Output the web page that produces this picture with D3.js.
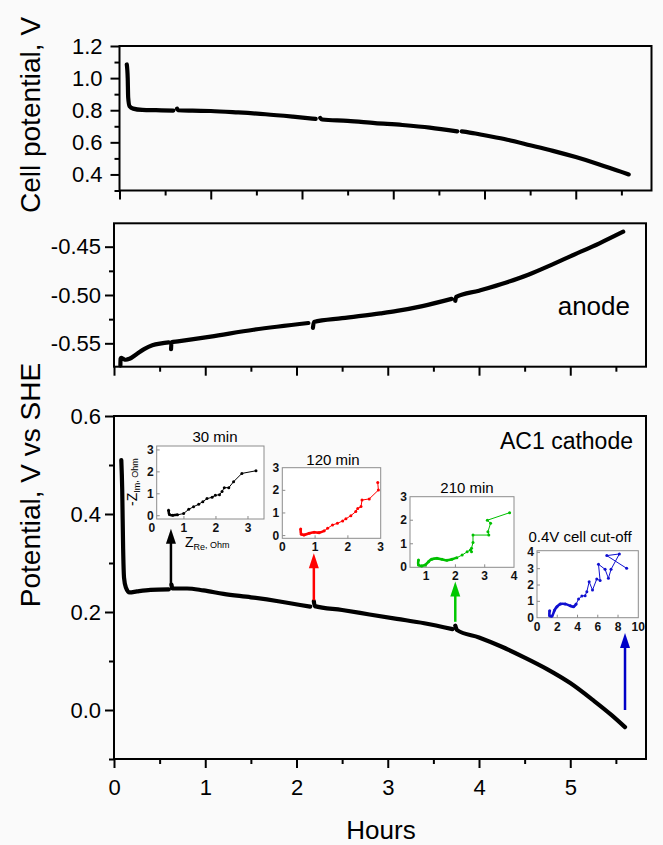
<!DOCTYPE html>
<html><head><meta charset="utf-8">
<script src="https://cdn.jsdelivr.net/npm/d3@7"></script>
<style>body{margin:0;background:#fafafa}</style>
</head><body>
<svg id="chart" width="663" height="845"></svg>
<script>
// ---------------- DATA ----------------
const hourTicks = [0, 1, 2, 3, 4, 5];
const hourMinorTicks = [0.5, 1.5, 2.5, 3.5, 4.5, 5.5];

const cellTicks = [0.4, 0.6, 0.8, 1.0, 1.2];
const cellMinorTicks = [0.3, 0.5, 0.7, 0.9, 1.1];
const anodeTicks = [-0.55, -0.50, -0.45];
const anodeMinorTicks = [-0.525, -0.475];
const cathodeTicks = [0.0, 0.2, 0.4, 0.6];
const cathodeMinorTicks = [-0.1, 0.1, 0.3, 0.5];

// cell potential (null = gap during impedance measurement)
const cellTime = [0.08,0.09,0.095,0.11,0.15,0.25,0.4,0.59,0.61,0.63,0.64,0.8,1.0,1.3,1.6,1.9,2.15,2.17,2.2,2.22,2.5,2.8,3.1,3.4,3.7,3.72,3.75,3.9,4.0,4.25,4.5,4.75,5.0,5.25,5.5,5.58];
const cellVolt = [1.085,1.0,0.88,0.825,0.81,0.802,0.80,0.798,null,0.81,0.80,0.797,0.795,0.786,0.775,0.76,0.746,null,0.752,0.742,0.734,0.72,0.708,0.692,0.668,null,0.668,0.655,0.644,0.616,0.582,0.547,0.508,0.464,0.416,0.40];

const anodeTime = [0.07,0.072,0.08,0.1,0.13,0.17,0.25,0.33,0.42,0.52,0.6,0.61,0.625,0.63,0.7,1.06,1.53,2.13,2.16,2.18,2.19,2.5,2.92,3.1,3.38,3.7,3.72,3.74,3.75,4.0,4.3,4.54,4.8,5.0,5.32,5.58];
const anodeVolt = [-0.573,-0.566,-0.565,-0.566,-0.567,-0.566,-0.561,-0.556,-0.552,-0.550,-0.549,null,-0.556,-0.549,-0.548,-0.543,-0.536,-0.529,null,-0.534,-0.528,-0.524,-0.519,-0.5165,-0.5115,-0.504,null,-0.506,-0.502,-0.4955,-0.487,-0.479,-0.4685,-0.46,-0.4465,-0.4345];

const cathodeTime = [0.08,0.09,0.1,0.11,0.13,0.17,0.25,0.4,0.6,0.61,0.63,0.64,0.8,0.98,1.2,1.5,1.8,2.15,2.17,2.19,2.2,2.5,2.8,3.1,3.4,3.71,3.73,3.74,3.76,4.0,4.25,4.5,4.75,5.0,5.25,5.45,5.6];
const cathodeVolt = [0.51,0.45,0.33,0.27,0.25,0.24,0.242,0.245,0.246,null,0.256,0.248,0.248,0.244,0.237,0.23,0.222,0.211,null,0.222,0.212,0.204,0.195,0.186,0.177,0.165,null,0.172,0.163,0.148,0.129,0.107,0.083,0.055,0.020,-0.010,-0.035];

// arrows marking impedance measurements
const arrowLabels = ["30 min", "120 min", "210 min", "0.4V cell cut-off"];
const arrowTime = [0.624, 2.19, 3.74, 5.6];
const arrowFrom = [0.252, 0.224, 0.18, 0.0];
const arrowTo = [0.37, 0.32, 0.262, 0.157];

// Nyquist insets
const eis30Re = [0.52,0.55,0.65,0.8,0.99,1.15,1.3,1.46,1.59,1.72,1.88,1.98,2.11,2.19,2.26,2.4,2.55,2.81,3.25];
const eis30Im = [0.25,0.05,0.02,0.04,0.1,0.29,0.41,0.52,0.64,0.78,0.84,0.93,0.96,1.1,1.28,1.28,1.55,1.93,2.05];
const eis120Re = [0.56,0.58,0.66,0.82,0.97,1.12,1.28,1.38,1.53,1.68,1.84,1.94,2.09,2.24,2.3,2.4,2.43,2.65,2.93,2.91];
const eis120Im = [0.29,0.06,0.03,0.1,0.15,0.13,0.21,0.32,0.47,0.54,0.65,0.74,0.88,1.06,1.2,1.28,1.57,1.62,2.01,2.35];
const eis210Re = [0.74,0.74,0.85,0.97,1.08,1.19,1.37,1.54,1.71,1.88,2.05,2.23,2.4,2.51,2.55,2.55,2.6,2.6,3.14,3.11,3.2,3.09,3.85];
const eis210Im = [0.31,0.1,0.06,0.1,0.24,0.34,0.38,0.34,0.3,0.34,0.41,0.52,0.66,0.74,0.66,0.81,1.05,1.37,1.37,1.51,1.87,2.0,2.32];
const eisCutRe = [1.25,1.25,1.48,1.74,1.97,2.3,2.79,3.28,3.6,3.87,4.1,4.43,4.75,4.92,5.15,5.48,5.9,6.23,6.07,6.72,7.05,7.31,8.13,6.89,8.85];
const eisCutIm = [0.43,0.12,0.1,0.47,0.67,0.84,0.84,0.73,0.67,0.84,1.14,1.33,1.35,1.59,2.2,1.69,2.37,2.27,3.27,2.96,2.41,2.96,3.9,3.8,3.02];

const inset30XTicks = [0,1,2,3], inset30YTicks = [0,1,2,3];
const inset120XTicks = [0,1,2,3], inset120YTicks = [0,1,2,3];
const inset210XTicks = [1,2,3,4], inset210YTicks = [0,1,2,3];
const insetCutXTicks = [0,2,4,6,8,10], insetCutYTicks = [0,1,2,3,4];

// ---------------- DRAW ----------------
const FONT = "'Liberation Sans', Arial, Helvetica, sans-serif";
const svg = d3.select("#chart");
svg.append("rect").attr("width", 663).attr("height", 845).attr("fill", "#fafafa");

const xDomain = [0, 5.83];
const fmtMinus = f => v => f(v).replace("\u2212", "-");

function drawPanel(cfg) {
  const x = d3.scaleLinear().domain(xDomain).range([cfg.x0, cfg.x1]);
  const y = d3.scaleLinear().domain(cfg.yDomain).range([cfg.y1, cfg.y0]);
  const g = svg.append("g");
  const ax = g.append("g").attr("transform", `translate(0,${cfg.y1})`)
    .call(d3.axisBottom(x).tickValues(hourTicks).tickSize(9).tickPadding(11)
      .tickFormat(cfg.xLabels ? d3.format("d") : ""));
  ax.select(".domain").remove();
  ax.selectAll("line").attr("stroke", "#000").attr("stroke-width", 2);
  ax.selectAll("text").attr("font-family", FONT).attr("font-size", 22).attr("fill", "#000");
  const axm = g.append("g").attr("transform", `translate(0,${cfg.y1})`)
    .call(d3.axisBottom(x).tickValues(hourMinorTicks).tickSize(5).tickFormat(""));
  axm.select(".domain").remove();
  axm.selectAll("line").attr("stroke", "#000").attr("stroke-width", 2);
  const ay = g.append("g").attr("transform", `translate(${cfg.x0},0)`)
    .call(d3.axisLeft(y).tickValues(cfg.yTicks).tickSize(9).tickPadding(cfg.pad).tickFormat(fmtMinus(cfg.fmt)));
  ay.select(".domain").remove();
  ay.selectAll("line").attr("stroke", "#000").attr("stroke-width", 2);
  ay.selectAll("text").attr("font-family", FONT).attr("font-size", 22).attr("fill", "#000");
  const aym = g.append("g").attr("transform", `translate(${cfg.x0},0)`)
    .call(d3.axisLeft(y).tickValues(cfg.yMinor).tickSize(5).tickFormat(""));
  aym.select(".domain").remove();
  aym.selectAll("line").attr("stroke", "#000").attr("stroke-width", 2);
  g.append("rect").attr("x", cfg.x0).attr("y", cfg.y0)
    .attr("width", cfg.x1 - cfg.x0).attr("height", cfg.y1 - cfg.y0)
    .attr("fill", "none").attr("stroke", "#000").attr("stroke-width", 2);
  const idx = d3.range(cfg.t.length);
  const line = d3.line().defined(i => cfg.v[i] !== null)
    .x(i => x(cfg.t[i])).y(i => y(cfg.v[i])).curve(d3.curveMonotoneX);
  g.append("path").datum(idx).attr("d", line).attr("fill", "none")
    .attr("stroke", "#000").attr("stroke-width", 4.2)
    .attr("stroke-linecap", "round").attr("stroke-linejoin", "round");
  return {x, y, g};
}

const panelTop = drawPanel({x0: 119.5, x1: 651.5, y0: 46, y1: 190.5, yDomain: [0.3, 1.2], pad: 8,
  yTicks: cellTicks, yMinor: cellMinorTicks, fmt: d3.format(".1f"), xLabels: false,
  t: cellTime, v: cellVolt});
const panelMid = drawPanel({x0: 114, x1: 646, y0: 223.3, y1: 366.7, yDomain: [-0.5742, -0.4258], pad: 4,
  yTicks: anodeTicks, yMinor: anodeMinorTicks, fmt: d3.format(".2f"), xLabels: false,
  t: anodeTime, v: anodeVolt});
const panelBot = drawPanel({x0: 114, x1: 646, y0: 416, y1: 759, yDomain: [-0.1, 0.6], pad: 4,
  yTicks: cathodeTicks, yMinor: cathodeMinorTicks, fmt: d3.format(".1f"), xLabels: true,
  t: cathodeTime, v: cathodeVolt});

svg.append("text").attr("transform", "translate(40,115) rotate(-90)")
  .attr("text-anchor", "middle").attr("font-family", FONT).attr("font-size", 28)
  .text("Cell potential, V");
svg.append("text").attr("transform", "translate(40,485) rotate(-90)")
  .attr("text-anchor", "middle").attr("font-family", FONT).attr("font-size", 28)
  .text("Potential, V vs SHE");
svg.append("text").attr("x", 381).attr("y", 839)
  .attr("text-anchor", "middle").attr("font-family", FONT).attr("font-size", 26)
  .text("Hours");
svg.append("text").attr("x", 630).attr("y", 315)
  .attr("text-anchor", "end").attr("font-family", FONT).attr("font-size", 26)
  .text("anode");
svg.append("text").attr("x", 633).attr("y", 449)
  .attr("text-anchor", "end").attr("font-family", FONT).attr("font-size", 23)
  .text("AC1 cathode");

const arrowColors = ["#000000", "#ff0000", "#00c800", "#0000c8"];
arrowTime.forEach((t, i) => {
  const ax = panelBot.x(t), yb = panelBot.y(arrowFrom[i]), yt = panelBot.y(arrowTo[i]);
  const headL = 15, headW = 5;
  svg.append("line").attr("x1", ax).attr("x2", ax).attr("y1", yb).attr("y2", yt + headL - 2)
    .attr("stroke", arrowColors[i]).attr("stroke-width", 2.5);
  svg.append("path").attr("d", `M${ax},${yt} L${ax - headW},${yt + headL} L${ax + headW},${yt + headL} Z`)
    .attr("fill", arrowColors[i]);
});

const insets = [
  {re: eis30Re, im: eis30Im, xt: inset30XTicks, yt: inset30YTicks, color: "#000000",
   box: [156.7, 446, 264, 519], xd: [0.15, 3.5], yd: [-0.15, 3.18], dense: 0.9, title: [215, 437]},
  {re: eis120Re, im: eis120Im, xt: inset120XTicks, yt: inset120YTicks, color: "#ff0000",
   box: [282.3, 467.7, 380.7, 538.3], xd: [0, 3], yd: [-0.12, 3], dense: 1.3, title: [333, 460]},
  {re: eis210Re, im: eis210Im, xt: inset210XTicks, yt: inset210YTicks, color: "#00c000",
   box: [410, 496.7, 514, 567.3], xd: [0.45, 4.0], yd: [0, 3], dense: 2.1, title: [467, 487.5]},
  {re: eisCutRe, im: eisCutIm, xt: insetCutXTicks, yt: insetCutYTicks, color: "#1010d0",
   box: [537, 550.7, 638.3, 617.7], xd: [0, 10], yd: [0, 4.1], dense: 3.9, title: [580, 537]}
];

insets.forEach((ins, k) => {
  const [bx0, by0, bx1, by1] = ins.box;
  const x = d3.scaleLinear().domain(ins.xd).range([bx0, bx1]);
  const y = d3.scaleLinear().domain(ins.yd).range([by1, by0]);
  const g = svg.append("g");
  g.append("rect").attr("x", bx0).attr("y", by0).attr("width", bx1 - bx0).attr("height", by1 - by0)
    .attr("fill", "#ffffff").attr("stroke", "#8c8c8c").attr("stroke-width", 1);
  ins.xt.forEach(v => {
    if (x(v) > bx0 + 1 && x(v) < bx1 - 1)
      g.append("line").attr("x1", x(v)).attr("x2", x(v)).attr("y1", by1).attr("y2", by1 - 3).attr("stroke", "#8c8c8c");
    g.append("text").attr("x", x(v)).attr("y", by1 + 13).attr("text-anchor", "middle")
      .attr("font-family", FONT).attr("font-size", 12).attr("font-weight", "bold").attr("fill", "#111").text(v);
  });
  ins.yt.forEach(v => {
    if (y(v) > by0 + 1 && y(v) < by1 - 1)
      g.append("line").attr("x1", bx0).attr("x2", bx0 + 3).attr("y1", y(v)).attr("y2", y(v)).attr("stroke", "#8c8c8c");
    g.append("text").attr("x", bx0 - 3).attr("y", y(v) + 4).attr("text-anchor", "end")
      .attr("font-family", FONT).attr("font-size", 12).attr("font-weight", "bold").attr("fill", "#111").text(v);
  });
  const idx = d3.range(ins.re.length);
  const line = d3.line().x(i => x(ins.re[i])).y(i => y(ins.im[i]));
  g.append("path").datum(idx).attr("d", line).attr("fill", "none").attr("stroke", ins.color).attr("stroke-width", 1);
  const denseIdx = idx.filter(i => ins.re[i] <= ins.dense);
  g.append("path").datum(denseIdx).attr("d", line.curve(d3.curveCatmullRom)).attr("fill", "none")
    .attr("stroke", ins.color).attr("stroke-width", 2.6).attr("stroke-linejoin", "round");
  g.selectAll("circle.p").data(idx).join("circle").attr("cx", i => x(ins.re[i])).attr("cy", i => y(ins.im[i]))
    .attr("r", 1.5).attr("fill", ins.color);
  svg.append("text").attr("x", ins.title[0]).attr("y", ins.title[1] + 5).attr("text-anchor", "middle")
    .attr("font-family", FONT).attr("font-size", 15).text(arrowLabels[k]);
});

const xl = svg.append("text").attr("x", 185).attr("y", 547).attr("font-family", FONT).attr("font-size", 14);
xl.append("tspan").text("Z");
xl.append("tspan").attr("font-size", 9).attr("dy", 3).text("Re");
xl.append("tspan").attr("font-size", 9).attr("dy", -2).text(", Ohm");
const yl = svg.append("text").attr("transform", "translate(137,506) rotate(-90)").attr("font-family", FONT).attr("font-size", 14);
yl.append("tspan").text("-Z");
yl.append("tspan").attr("font-size", 9).attr("dy", 3).text("Im");
yl.append("tspan").attr("font-size", 9).attr("dy", -2).text(", Ohm");
</script>
</body></html>
